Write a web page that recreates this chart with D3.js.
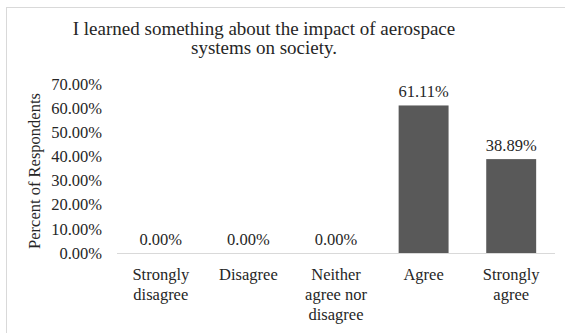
<!DOCTYPE html>
<html>
<head>
    <title></title>
    <style>
        body { margin: 0; background: #fff; }
        svg text { font-family: "Liberation Serif", "Times New Roman", "DejaVu Serif", serif; fill: #262626; }
    </style>
</head>
<body>
    <script src="https://d3js.org/d3.v7.min.js"></script>
    <script>

    // data
    var categories = [["Strongly", "disagree"], ["Disagree"], ["Neither", "agree nor", "disagree"], ["Agree"], ["Strongly", "agree"]];
    var values = [0, 0, 0, 61.11, 38.89];
    var yTicks = [0, 10, 20, 30, 40, 50, 60, 70];
    var titleLines = ["I learned something about the impact of aerospace", "systems on society."];

    var W = 565, H = 333;
    var plot = { left: 117, right: 555, top: 84, bottom: 253 };
    var serif = "'Liberation Serif', 'Times New Roman', 'DejaVu Serif', serif";
    var fs = "16.5px";

    var svg = d3.select("body").append("svg")
        .attr("width", W)
        .attr("height", H)
        .style("font-family", serif);

    // chart border
    svg.append("rect")
        .attr("x", 6.5).attr("y", 7.5)
        .attr("width", W + 10).attr("height", H + 10)
        .attr("fill", "none")
        .attr("stroke", "#d9d9d9")
        .attr("stroke-width", 1);

    // title
    svg.append("text")
        .attr("text-anchor", "middle")
        .style("font-size", "19px")
        .selectAll("tspan")
        .data(titleLines)
        .enter().append("tspan")
        .attr("x", 264)
        .attr("y", function(d, i) { return 35 + i * 19; })
        .text(function(d) { return d; });

    var x = d3.scaleBand()
        .domain(d3.range(categories.length))
        .range([plot.left, plot.right])
        .paddingInner(0.43)
        .paddingOuter(0.215);

    var y = d3.scaleLinear().domain([0, 70]).range([plot.bottom, plot.top]);

    // y axis labels
    var yAxis = d3.axisLeft(y)
        .tickValues(yTicks)
        .tickSize(0)
        .tickPadding(0)
        .tickFormat(function(d) { return d.toFixed(2) + "%"; });

    var gY = svg.append("g")
        .attr("transform", "translate(102,0)")
        .call(yAxis)
        .attr("font-family", null)
        .attr("font-size", null);
    gY.select(".domain").remove();
    gY.selectAll("text")
        .style("font-size", fs)
        .attr("fill", "#262626");

    // y axis title
    svg.append("text")
        .attr("transform", "translate(40,171) rotate(-90)")
        .attr("text-anchor", "middle")
        .style("font-size", fs)
        .text("Percent of Respondents");

    // bars
    svg.selectAll(".bar")
        .data(values)
        .enter().append("rect")
        .attr("class", "bar")
        .attr("x", function(d, i) { return x(i); })
        .attr("width", x.bandwidth())
        .attr("y", function(d) { return y(d); })
        .attr("height", function(d) { return y(0) - y(d); })
        .attr("fill", "#595959");

    // x axis line
    svg.append("line")
        .attr("x1", plot.left).attr("x2", plot.right)
        .attr("y1", plot.bottom + 0.5).attr("y2", plot.bottom + 0.5)
        .attr("stroke", "#d9d9d9")
        .attr("stroke-width", 1);

    // value labels
    svg.selectAll(".val")
        .data(values)
        .enter().append("text")
        .attr("class", "val")
        .attr("text-anchor", "middle")
        .style("font-size", fs)
        .attr("x", function(d, i) { return x(i) + x.bandwidth() / 2; })
        .attr("y", function(d) { return y(d) - 8; })
        .text(function(d) { return d.toFixed(2) + "%"; });

    // category labels
    var cat = svg.selectAll(".cat")
        .data(categories)
        .enter().append("text")
        .attr("class", "cat")
        .attr("text-anchor", "middle")
        .style("font-size", fs);
    cat.selectAll("tspan")
        .data(function(d, i) { return d.map(function(s) { return { s: s, i: i }; }); })
        .enter().append("tspan")
        .attr("x", function(d) { return x(d.i) + x.bandwidth() / 2; })
        .attr("y", function(d, j) { return 280 + j * 20; })
        .text(function(d) { return d.s; });

    </script>
</body>
</html>
